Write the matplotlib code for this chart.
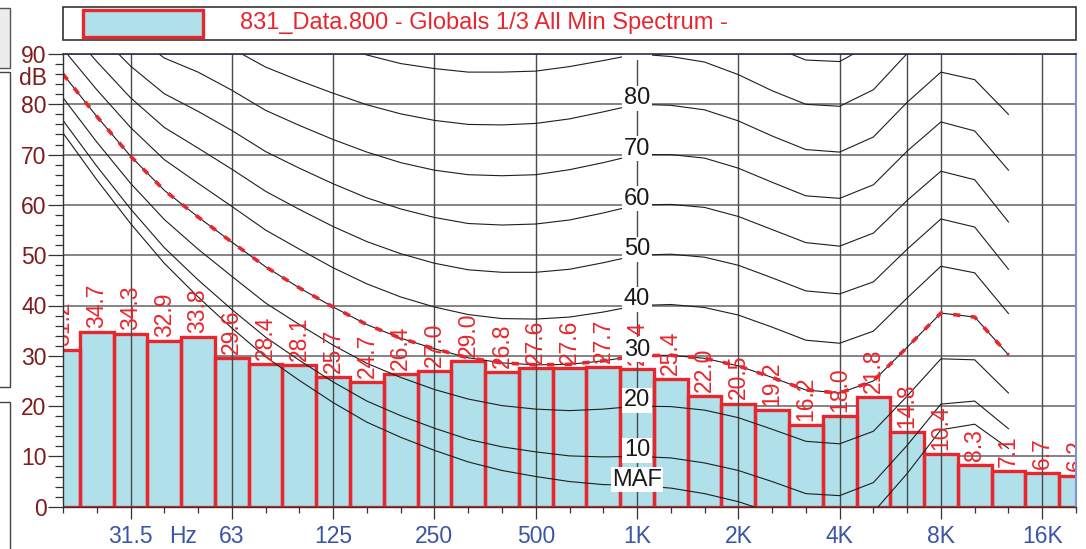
import matplotlib
matplotlib.use("Agg")
import matplotlib.pyplot as plt
from matplotlib.patches import Rectangle
from matplotlib.transforms import blended_transform_factory, ScaledTranslation
from matplotlib import font_manager as fm
import numpy as np

W, H, DPI = 1086, 549, 100

# 1/3-octave band centres shown on the axis
bands = ["20", "25", "31.5", "40", "50", "63", "80", "100", "125", "160",
         "200", "250", "315", "400", "500", "630", "800", "1K", "1.25K",
         "1.6K", "2K", "2.5K", "3.15K", "4K", "5K", "6.3K", "8K", "10K",
         "12.5K", "16K", "20K"]

# Globals 1/3 All Min spectrum, dB
levels = [31.2, 34.7, 34.3, 32.9, 33.8, 29.6, 28.4, 28.1, 25.7, 24.7,
          26.4, 27.0, 29.0, 26.8, 27.6, 27.6, 27.7, 27.4, 25.4, 22.0,
          20.5, 19.2, 16.2, 18.0, 21.8, 14.8, 10.4, 8.3, 7.1, 6.7, 6.2]

tick_bands = ["31.5", "63", "125", "250", "500", "1K", "2K", "4K", "8K", "16K"]
extra_grid_bands = ["6.3K"]
y_ticks = [0, 10, 20, 30, 40, 50, 60, 70, 80, 90]

# equal-loudness contours, dB SPL at the bands 20 Hz .. 12.5 kHz
phon_maf = [74.3, 65.0, 56.3, 48.4, 41.7, 35.5, 29.8, 25.1, 20.7, 16.8, 13.8, 11.2, 8.9, 7.2, 6.0,
            5.0, 4.4, 4.2, 3.7, 2.6, 1.0, -1.2, -3.6, -3.9, -1.1, 6.6, 15.3, 16.4, 11.6]
phon_10 = [76.8, 67.7, 59.2, 51.5, 45.1, 39.2, 33.7, 29.1, 24.8, 21.0, 18.1, 15.6, 13.4, 11.9, 10.9,
           10.1, 9.9, 10.0, 9.7, 8.7, 7.2, 5.0, 2.6, 2.2, 4.8, 12.2, 20.4, 21.0, 15.5]
phon_20 = [81.3, 72.5, 64.3, 57.1, 51.2, 45.8, 40.5, 36.2, 32.1, 28.5, 25.7, 23.3, 21.4, 20.1, 19.4,
           19.1, 19.4, 20.0, 19.9, 19.2, 17.7, 15.4, 13.0, 12.5, 15.0, 22.0, 29.4, 29.2, 22.6]
phon_30 = [86.0, 77.6, 69.7, 62.9, 57.6, 52.6, 47.7, 43.5, 39.7, 36.2, 33.5, 31.4, 29.6, 28.6, 28.2,
           28.3, 29.0, 30.0, 30.1, 29.5, 28.0, 25.7, 23.2, 22.6, 25.0, 31.7, 38.5, 37.7, 30.2]
phon_40 = [91.0, 82.9, 75.4, 69.0, 64.3, 59.7, 55.0, 51.2, 47.5, 44.3, 41.7, 39.7, 38.2, 37.4, 37.3,
           37.7, 38.7, 40.0, 40.2, 39.6, 38.1, 35.7, 33.1, 32.5, 34.9, 41.5, 47.8, 46.5, 38.4]
phon_50 = [96.2, 88.5, 81.3, 75.4, 71.3, 67.1, 62.7, 59.1, 55.7, 52.7, 50.3, 48.4, 47.1, 46.6, 46.6,
           47.2, 48.5, 50.0, 50.2, 49.6, 48.0, 45.5, 42.9, 42.3, 44.7, 51.2, 57.2, 55.6, 47.2]
phon_60 = [101.7, 94.4, 87.6, 82.1, 78.6, 74.8, 70.6, 67.3, 64.2, 61.4, 59.2, 57.5, 56.3, 56.0, 56.2,
           57.0, 58.4, 60.0, 60.1, 59.5, 57.7, 55.1, 52.5, 51.8, 54.4, 60.9, 66.7, 65.0, 56.6]
phon_70 = [107.6, 100.7, 94.3, 89.2, 86.4, 82.8, 78.8, 75.8, 73.0, 70.5, 68.4, 66.9, 66.0, 65.8, 66.0,
           67.0, 68.4, 70.0, 70.0, 69.3, 67.3, 64.5, 61.8, 61.3, 64.0, 70.7, 76.5, 74.7, 66.9]
phon_80 = [113.7, 107.3, 101.3, 96.6, 94.6, 91.1, 87.4, 84.7, 82.2, 79.9, 78.1, 76.8, 76.0, 75.9, 76.2,
           77.1, 78.5, 80.0, 79.8, 78.9, 76.7, 73.7, 71.0, 70.5, 73.5, 80.4, 86.4, 84.9, 78.0]
phon_90 = [120.3, 114.4, 108.7, 104.4, 103.2, 99.8, 96.3, 94.0, 91.8, 89.8, 88.1, 87.1, 86.4, 86.4, 86.6,
           87.5, 88.7, 90.0, 89.5, 88.4, 85.9, 82.7, 80.0, 79.6, 82.9, 90.1, 96.4, 95.4, 90.0]
phon_100 = [127.2, 121.9, 116.6, 112.6, 112.3, 108.9, 105.6, 103.6, 101.8, 100.1, 98.7, 97.8, 97.2, 97.3, 97.4,
            98.1, 99.1, 100.0, 99.1, 97.7, 94.9, 91.5, 88.8, 88.5, 92.2, 99.9, 106.6, 106.4, 103.2]

contours = [("MAF", phon_maf), ("10", phon_10), ("20", phon_20), ("30", phon_30),
            ("40", phon_40), ("50", phon_50), ("60", phon_60), ("70", phon_70),
            ("80", phon_80), ("90", phon_90), ("100", phon_100)]
labelled = ["MAF", "10", "20", "30", "40", "50", "60", "70", "80", "90"]
loudness_contour = "30"
label_band = "1K"

legend_text = "831_Data.800 - Globals 1/3 All Min Spectrum -"

# colours
RED = "#e8262d"
FILL = "#b0e1ea"
YLAB = "#7d1c1c"
XLAB = "#3d55a5"

names = {f.name for f in fm.fontManager.ttflist}
BASE = "Liberation Sans" if "Liberation Sans" in names else "DejaVu Sans"
plt.rcParams["font.family"] = [BASE, "DejaVu Sans"]

fig = plt.figure(figsize=(W / DPI, H / DPI), dpi=DPI)
fig.patch.set_facecolor("white")


def fig_rect(x0, y0, x1, y1, **kw):
    """Rectangle given in pixel corners (origin top-left)."""
    r = Rectangle((x0 / W, 1 - y1 / H), (x1 - x0) / W, (y1 - y0) / H,
                  transform=fig.transFigure, **kw)
    fig.add_artist(r)
    return r


# panel edges at the left border
fig_rect(-3, 8, 10, 68, facecolor="#ececec", edgecolor="#555555", lw=1.0)
fig_rect(-3, 72, 10, 387, facecolor="white", edgecolor="#444444", lw=1.0)
fig_rect(-3, 402, 10, 560, facecolor="white", edgecolor="#444444", lw=1.0)

ax_l, ax_r, ax_t, ax_b = 63, 1076, 54, 506.7
ax = fig.add_axes([ax_l / W, 1 - ax_b / H, (ax_r - ax_l) / W, (ax_b - ax_t) / H])

idx = np.arange(len(bands))
pos = {b: i for i, b in enumerate(bands)}
xmax = len(bands) - 1

# bars: light cyan fill with thick red outlines
ax.bar(idx, levels, width=1.0, facecolor=FILL, edgecolor="none", zorder=2)
ax.bar(idx, levels, width=1.0, fill=False, edgecolor=RED, linewidth=2.4, zorder=3)

# horizontal grid under the bars, vertical grid above
for yv in y_ticks[1:]:
    ax.axhline(yv, color="#6f6f6f", lw=1.2, zorder=1)
for b in tick_bands + extra_grid_bands:
    ax.axvline(pos[b], color="#4a4a4a", lw=1.0, zorder=3.5)

# equal-loudness contours
cidx = idx[:len(phon_maf)]
for name, vals in contours:
    ax.plot(cidx, vals, color="#1e1e1e", lw=0.8, zorder=4)
    if name == loudness_contour:
        ax.plot(cidx, vals, color=RED, lw=2.6, ls=(0, (2.0, 2.9)),
                dash_capstyle="butt", zorder=5)

# value labels above each bar
for i, v in zip(idx, levels):
    ax.annotate(f"{v:.1f}", (i, v), xytext=(0, 3), textcoords="offset points",
                rotation=90, ha="center", va="bottom", color=RED,
                fontsize=16.5, zorder=6, annotation_clip=False, clip_on=True)

# contour names at 1 kHz, on top of everything inside the plot
for name, vals in contours:
    if name in labelled:
        ax.text(pos[label_band], vals[pos[label_band]], name, ha="center", va="baseline",
                fontsize=17, color="#1a1a1a", zorder=7, clip_on=True,
                bbox=dict(boxstyle="square,pad=0.06", facecolor="white", edgecolor="none"))

ax.set_xlim(0, xmax)
ax.set_ylim(0, 90)

ax.set_yticks(y_ticks)
ax.set_yticks(np.arange(0, 91, 2), minor=True)
ax.set_xticks([pos[b] for b in tick_bands])
ax.set_xticklabels(tick_bands)
ax.set_xticks(idx, minor=True)

XPAD = 4.5
ax.tick_params(axis="y", which="major", direction="out", length=10.8, width=0.9,
               color="#333333", pad=1.0, labelsize=16.5, labelcolor=YLAB)
ax.tick_params(axis="y", which="minor", direction="out", length=5.6, width=0.9,
               color="#333333")
ax.tick_params(axis="x", which="major", direction="out", length=8.6, width=0.9,
               color="#333333", pad=XPAD, labelsize=16.5, labelcolor=XLAB)
ax.tick_params(axis="x", which="minor", direction="out", length=4.3, width=0.9,
               color="#333333")

for side in ("left", "bottom"):
    ax.spines[side].set_color("#333333")
    ax.spines[side].set_linewidth(1.0)
ax.spines["top"].set_color("#2b2f45")
ax.spines["top"].set_linewidth(1.2)
ax.spines["right"].set_color("#7f95d0")
ax.spines["right"].set_linewidth(1.5)
for sp in ax.spines.values():
    sp.set_zorder(8)

# unit labels
ax.text(-0.016, 85.2, "dB", transform=blended_transform_factory(ax.transAxes, ax.transData),
        ha="right", va="center", fontsize=16.5, color=YLAB)
hz_tf = ax.get_xaxis_transform() + ScaledTranslation(0, -(8.6 + XPAD) / 72, fig.dpi_scale_trans)
ax.text(3.55, 0, "Hz", transform=hz_tf, ha="center", va="top", fontsize=16.5, color=XLAB)

# legend strip
fig_rect(63, 7, 1076, 40, fill=False, edgecolor="#333333", lw=1.2)
fig_rect(83, 10, 203, 37, facecolor=FILL, edgecolor=RED, lw=2.4)
fig.text(240 / W, 1 - 23.5 / H, legend_text, ha="left", va="center",
         fontsize=17, color=RED)

fig.savefig("out.png", dpi=DPI)
